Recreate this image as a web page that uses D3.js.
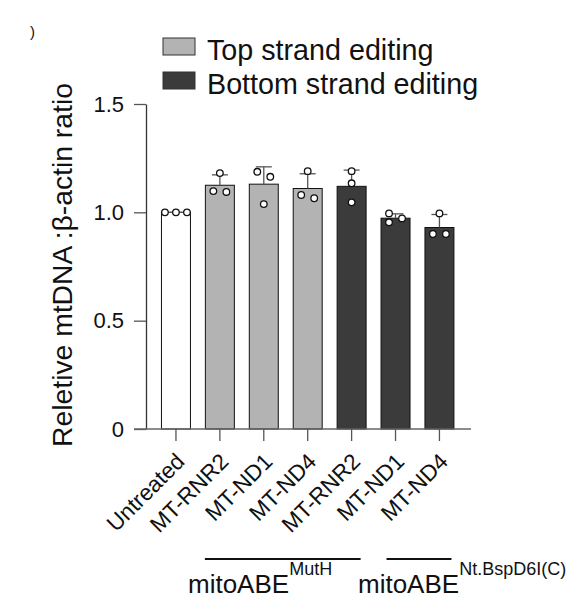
<!DOCTYPE html>
<html>
<head>
<meta charset="utf-8">
<script src="https://cdn.jsdelivr.net/npm/d3@7"></script>
<style>
  body { margin: 0; background: #fff; }
  text { font-family: "Liberation Sans", Arial, sans-serif; fill: #111; }
</style>
</head>
<body>
<svg id="chart" width="577" height="600"></svg>
<script>
// Chart values.
const categories = ["Untreated", "MT-RNR2", "MT-ND1", "MT-ND4", "MT-RNR2", "MT-ND1", "MT-ND4"];
const strands = ["none", "top", "top", "top", "bottom", "bottom", "bottom"];
const means = [1.00, 1.125, 1.13, 1.11, 1.12, 0.973, 0.93];
const errors = [0.0, 0.048, 0.08, 0.068, 0.075, 0.02, 0.06];
const replicates = [
    [1.00, 1.00, 1.00],
    [1.094, 1.098, 1.181],
    [1.187, 1.164, 1.038],
    [1.065, 1.080, 1.190],
    [1.190, 1.134, 1.046],
    [0.995, 0.972, 0.954],
    [0.900, 0.900, 0.995]
];
const yTicks = [0, 0.5, 1.0, 1.5];
const yTickLabels = ["0", "0.5", "1.0", "1.5"];
const legendLabels = ["Top strand editing", "Bottom strand editing"];
const legendStrands = ["top", "bottom"];
const groupNames = ["mitoABE", "mitoABE"];
const groupSups = ["MutH", "Nt.BspD6I(C)"];
const groupFirst = [1, 5];
const groupLast = [4, 6];

const fillColor = { none: "#ffffff", top: "#b3b3b3", bottom: "#3b3b3b" };

let svg = d3.select("#chart");
let ids = categories.map((c, i) => i);

// Setup scales.
let x = d3.scaleBand()
    .domain(ids)
    .range([154, 461.4])
    .paddingInner(0.34)
    .paddingOuter(0.17);

let y = d3.scaleLinear()
    .domain([0, 1.5])
    .range([429, 104]);

let bw = x.bandwidth();
let cx = i => x(i) + bw / 2;

// Draw y axis.
let yAxis = svg.append("g")
    .attr("transform", "translate(146,0)")
    .call(d3.axisLeft(y).tickValues(yTicks).tickFormat((d, i) => yTickLabels[i])
        .tickSize(12).tickSizeOuter(0).tickPadding(10));
yAxis.select(".domain").attr("stroke", "#333").attr("stroke-width", 1.3);
yAxis.selectAll(".tick line").attr("stroke", "#555").attr("stroke-width", 1.3);
yAxis.selectAll(".tick text")
    .style("font-size", "22px")
    .attr("fill", "#111");

// Draw bars.
svg.append("g").selectAll("rect")
    .data(ids)
    .join("rect")
    .attr("x", i => x(i))
    .attr("y", i => y(means[i]))
    .attr("width", bw)
    .attr("height", i => y(0) - y(means[i]))
    .attr("fill", i => fillColor[strands[i]])
    .attr("stroke", "#111")
    .attr("stroke-width", 1);

// Draw x axis (line drawn separately so it runs past the y axis).
svg.append("line")
    .attr("x1", 134).attr("x2", 471)
    .attr("y1", y(0)).attr("y2", y(0))
    .attr("stroke", "#666")
    .attr("stroke-width", 1.5);

let xAxis = svg.append("g")
    .attr("transform", "translate(0," + y(0) + ")")
    .call(d3.axisBottom(x).tickSize(12).tickSizeOuter(0).tickFormat(""));
xAxis.select(".domain").remove();
xAxis.selectAll(".tick line").attr("stroke", "#555").attr("stroke-width", 1.3);

// Rotated category labels.
svg.append("g").selectAll("text")
    .data(ids)
    .join("text")
    .attr("transform", i => "translate(" + (cx(i) + 10) + "," + (y(0) + 34) + ") rotate(-45)")
    .attr("text-anchor", "end")
    .style("font-size", "22.5px")
    .text(i => categories[i]);

// Error bars (upper only).
let capW = 16;
let err = svg.append("g").attr("stroke", "#555").attr("stroke-width", 1.3);
ids.forEach(i => {
    err.append("line")
        .attr("x1", cx(i)).attr("x2", cx(i))
        .attr("y1", y(means[i])).attr("y2", y(means[i] + errors[i]));
    err.append("line")
        .attr("x1", cx(i) - capW / 2).attr("x2", cx(i) + capW / 2)
        .attr("y1", y(means[i] + errors[i])).attr("y2", y(means[i] + errors[i]));
});

// Spread overlapping replicate points sideways.
function dodge(vals) {
    let d = 8.5;
    let order = vals.map((v, k) => ({ k: k, py: y(v) })).sort((a, b) => a.py - b.py);
    let clusters = [];
    let cur = [order[0]];
    for (let k = 1; k < order.length; k++) {
        if (order[k].py - order[k - 1].py < d) {
            cur.push(order[k]);
        } else {
            clusters.push(cur);
            cur = [order[k]];
        }
    }
    clusters.push(cur);
    let offsets = vals.map(() => 0);
    clusters.forEach(c => {
        if (c.length == 2) {
            offsets[c[0].k] = -6.5;
            offsets[c[1].k] = 6.5;
        } else if (c.length >= 3) {
            let span = c[c.length - 1].py - c[0].py;
            if (span < d) {
                c.forEach((p, j) => { offsets[p.k] = (j - (c.length - 1) / 2) * 11; });
            } else {
                c.forEach((p, j) => { offsets[p.k] = j % 2 == 0 ? -6.5 : 6.5; });
            }
        }
    });
    return offsets;
}

let pts = svg.append("g");
ids.forEach(i => {
    let offs = dodge(replicates[i]);
    replicates[i].forEach((v, k) => {
        pts.append("circle")
            .attr("cx", cx(i) + offs[k])
            .attr("cy", y(v))
            .attr("r", 3.3)
            .attr("fill", "#fff")
            .attr("stroke", "#111")
            .attr("stroke-width", 1.3);
    });
});

// Y axis title.
svg.append("text")
    .attr("transform", "translate(72," + 265 + ") rotate(-90)")
    .attr("text-anchor", "middle")
    .style("font-size", "28.3px")
    .text("Reletive mtDNA :β-actin ratio");

// Legend.
let legend = svg.append("g").attr("transform", "translate(163,38)");
legendLabels.forEach((lab, k) => {
    legend.append("rect")
        .attr("x", 0).attr("y", k * 34)
        .attr("width", 32).attr("height", 17)
        .attr("fill", fillColor[legendStrands[k]])
        .attr("stroke", "#333")
        .attr("stroke-width", 1);
    legend.append("text")
        .attr("x", 44).attr("y", k * 34 + 22)
        .style("font-size", "28.7px")
        .text(lab);
});

// Group brackets below the labels.
let groupLineInset = [[-15, 9], [-9, 12]];
let groupTextX = [188, 358];
groupNames.forEach((g, k) => {
    svg.append("line")
        .attr("x1", cx(groupFirst[k]) + groupLineInset[k][0])
        .attr("x2", cx(groupLast[k]) + groupLineInset[k][1])
        .attr("y1", 559).attr("y2", 559)
        .attr("stroke", "#111")
        .attr("stroke-width", 2);
    let t = svg.append("text")
        .attr("x", groupTextX[k])
        .attr("y", 593)
        .style("font-size", "26px");
    t.append("tspan").text(g);
    t.append("tspan")
        .attr("dy", -18)
        .style("font-size", "18px")
        .text(groupSups[k]);
});

// Cut-off mark at the top-left corner.
svg.append("text")
    .attr("x", 30).attr("y", 37)
    .style("font-size", "15px")
    .text(")");
</script>
</body>
</html>
